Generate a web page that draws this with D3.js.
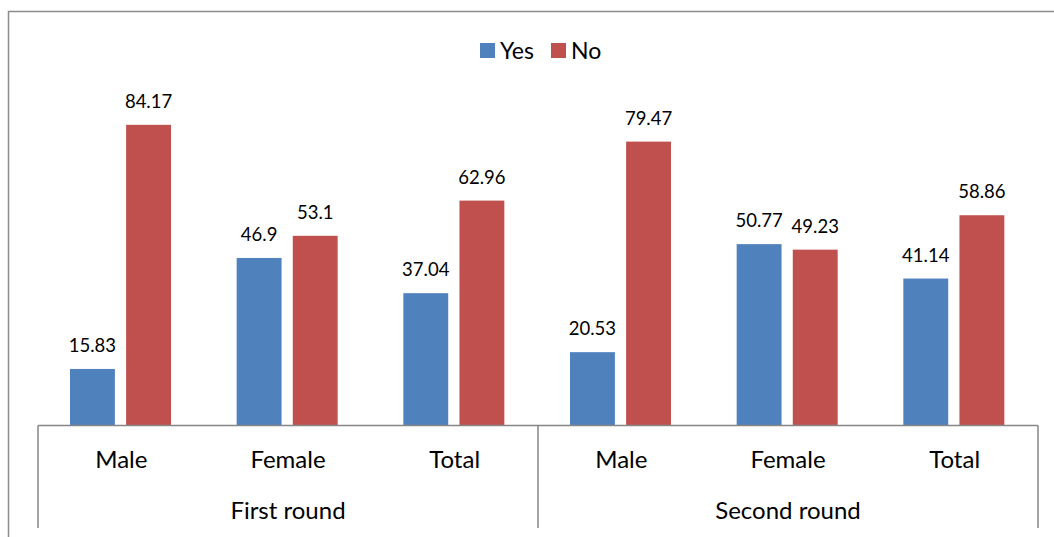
<!DOCTYPE html>
<html>
<head>
<meta charset="utf-8">
<script src="https://cdn.jsdelivr.net/npm/d3@7"></script>
<style>
  body { margin: 0; background: #fff; }
  svg { display: block; font-family: Lato, "Open Sans", sans-serif; }
</style>
</head>
<body>
<div id="chart"></div>
<script>
// chart values
var rounds = ["First round", "Second round"];
var groups = ["Male", "Female", "Total"];
var series = ["Yes", "No"];
var yesValues = [15.83, 46.9, 37.04, 20.53, 50.77, 41.14];
var noValues = [84.17, 53.1, 62.96, 79.47, 49.23, 58.86];
var colors = ["#4F81BD", "#C0504D"];

var width = 1054, height = 537;

var svg = d3.select("#chart").append("svg")
    .attr("width", width)
    .attr("height", height);

// outer chart frame (right and bottom run off the picture)
svg.append("rect")
    .attr("x", 8.5).attr("y", 11.5)
    .attr("width", 1060).attr("height", 560)
    .attr("fill", "none")
    .attr("stroke", "#8c8c8c")
    .attr("stroke-width", 1.5);

// build rows from the arrays
var rows = [];
rounds.forEach(function(r, i) {
  groups.forEach(function(g, j) {
    var k = i * groups.length + j;
    rows.push({ key: r + "|" + g, round: r, group: g, values: [yesValues[k], noValues[k]] });
  });
});

var axisY = 425.5;
var x = d3.scaleBand()
    .domain(rows.map(function(d) { return d.key; }))
    .range([38, 1038]);

var xInner = d3.scaleBand()
    .domain(series)
    .range([32, 133])
    .paddingInner(0.2);

var y = d3.scaleLinear()
    .domain([0, 90])
    .range([axisY, 104]);

var color = d3.scaleOrdinal().domain(series).range(colors);

// bars
var cat = svg.append("g").selectAll("g")
    .data(rows)
    .enter().append("g")
    .attr("transform", function(d) { return "translate(" + x(d.key) + ",0)"; });

cat.selectAll("rect")
    .data(function(d) { return d.values.map(function(v, i) { return { s: series[i], v: v }; }); })
    .enter().append("rect")
    .attr("x", function(d) { return xInner(d.s); })
    .attr("width", xInner.bandwidth())
    .attr("y", function(d) { return y(d.v); })
    .attr("height", function(d) { return axisY - y(d.v); })
    .attr("fill", function(d) { return color(d.s); });

// value labels
cat.selectAll("text")
    .data(function(d) { return d.values.map(function(v, i) { return { s: series[i], v: v }; }); })
    .enter().append("text")
    .attr("x", function(d) { return xInner(d.s) + xInner.bandwidth() / 2; })
    .attr("y", function(d) { return y(d.v) - 17; })
    .attr("text-anchor", "middle")
    .attr("font-size", "18.5px")
    .attr("fill", "#000")
    .text(function(d) { return d.v; });

// category axis (two levels)
var axis = svg.append("g").attr("stroke", "#868686").attr("stroke-width", 1.5);
axis.append("line")
    .attr("x1", 38).attr("x2", 1038)
    .attr("y1", axisY).attr("y2", axisY);

var roundScale = d3.scaleBand().domain(rounds).range([38, 1038]);
var bounds = rounds.map(function(r) { return roundScale(r); }).concat([1038]);
axis.selectAll(".sep")
    .data(bounds)
    .enter().append("line")
    .attr("x1", function(d) { return d; }).attr("x2", function(d) { return d; })
    .attr("y1", axisY).attr("y2", 528);

svg.append("g").selectAll("text")
    .data(rows)
    .enter().append("text")
    .attr("x", function(d) { return x(d.key) + x.bandwidth() / 2; })
    .attr("y", 468)
    .attr("text-anchor", "middle")
    .attr("font-size", "24px")
    .text(function(d) { return d.group; });

svg.append("g").selectAll("text")
    .data(rounds)
    .enter().append("text")
    .attr("x", function(d) { return roundScale(d) + roundScale.bandwidth() / 2; })
    .attr("y", 519)
    .attr("text-anchor", "middle")
    .attr("font-size", "24px")
    .text(function(d) { return d; });

// legend
var legend = svg.append("g");
var legendX = [480, 551];
series.forEach(function(s, i) {
  var g = legend.append("g").attr("transform", "translate(" + legendX[i] + ",43)");
  g.append("rect").attr("width", 15).attr("height", 15).attr("fill", color(s));
  g.append("text").attr("x", 20).attr("y", 15.5).attr("font-size", "23px").text(s);
});
</script>
</body>
</html>
